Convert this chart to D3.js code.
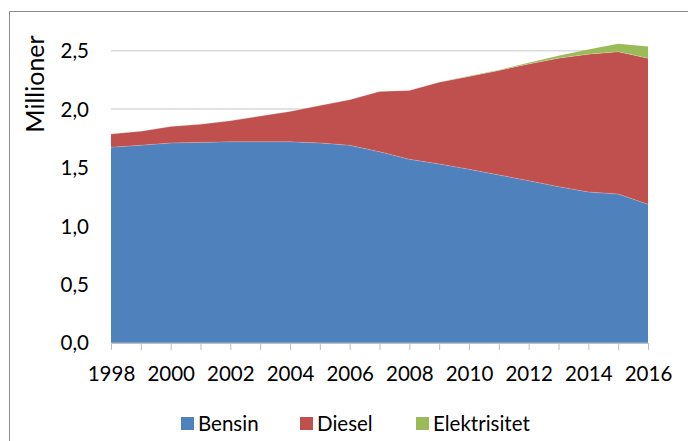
<!DOCTYPE html>
<html><head><meta charset="utf-8">
<script src="https://cdn.jsdelivr.net/npm/d3@7"></script>
<style>body{margin:0;background:#fff}svg{display:block}</style>
</head><body>
<script>
const years = [1998,1999,2000,2001,2002,2003,2004,2005,2006,2007,2008,2009,2010,2011,2012,2013,2014,2015,2016];
const bensin = [1.673,1.69,1.71,1.715,1.72,1.72,1.72,1.71,1.69,1.635,1.57,1.53,1.485,1.436,1.387,1.336,1.29,1.273,1.185];
const diesel = [0.114,0.12,0.14,0.155,0.18,0.22,0.26,0.32,0.39,0.515,0.59,0.70,0.795,0.894,1.0,1.10,1.18,1.217,1.25];
const elektrisitet = [0,0,0,0,0,0,0,0,0,0,0,0,0.003,0.005,0.01,0.02,0.04,0.07,0.10];
const seriesNames = ["Bensin","Diesel","Elektrisitet"];
const colors = ["#4f81bd","#c0504d","#9bbb59"];
const yTicks = [0,0.5,1,1.5,2,2.5];
const xTickLabels = [1998,2000,2002,2004,2006,2008,2010,2012,2014,2016];

const W=688,H=441;
const svg=d3.select("body").append("svg").attr("width",W).attr("height",H);
const font="Lato, 'Open Sans', sans-serif";

// frame
svg.append("path").attr("d","M9.5,441 V11.5 H688").attr("fill","none").attr("stroke","#8c8c8c").attr("stroke-width",1);

const x=d3.scaleLinear().domain([1998,2016]).range([111,648]);
const y=d3.scaleLinear().domain([0,2.5]).range([342.7,50.7]);

// gridlines
svg.append("g").selectAll("line").data(yTicks.filter(d=>d>0)).join("line")
 .attr("x1",111).attr("x2",648).attr("y1",d=>y(d)).attr("y2",d=>y(d))
 .attr("stroke","#d9d9d9").attr("stroke-width",1.5);

const table=years.map((yr,i)=>({year:yr,Bensin:bensin[i],Diesel:diesel[i],Elektrisitet:elektrisitet[i]}));
const stack=d3.stack().keys(seriesNames)(table);
const area=d3.area().x(d=>x(d.data.year)).y0(d=>y(d[0])).y1(d=>y(d[1]));
svg.append("g").selectAll("path").data(stack).join("path")
 .attr("d",area).attr("fill",(d,i)=>colors[i]);
// faint boundary lines
const line=d3.line().x(d=>x(d.data.year)).y(d=>y(d[1]));
svg.append("g").selectAll("path").data(stack.slice(0,2)).join("path")
 .attr("d",line).attr("fill","none").attr("stroke","rgba(255,255,255,0.25)").attr("stroke-width",0.8);

// x axis
const xAxis=d3.axisBottom(x).tickValues(years).tickSize(7).tickFormat(d=>xTickLabels.includes(d)?String(d):"");
const gx=svg.append("g").attr("transform","translate(0,343)").call(xAxis);
gx.select(".domain").attr("stroke","#bfbfbf").attr("stroke-width",1.2).attr("d","M111,0.5H648");
gx.selectAll(".tick line").attr("stroke","#bfbfbf");
gx.selectAll("text").attr("font-family",font).attr("font-size",20.5).attr("fill","#000").attr("dy",0).attr("y",38);

// y axis labels
const yAxis=d3.axisLeft(y).tickValues(yTicks).tickSize(0).tickFormat(d=>d3.format(".1f")(d).replace(".",","));
const gy=svg.append("g").attr("transform","translate(98,0)").call(yAxis);
gy.select(".domain").remove();
gy.selectAll("text").attr("font-family",font).attr("font-size",20.5).attr("fill","#000").attr("x",-9).attr("dy","0.35em");

svg.append("text").attr("transform","translate(44,84) rotate(-90)").attr("text-anchor","middle")
 .attr("font-family",font).attr("font-size",25).attr("fill","#000").text("Millioner");

// legend
const legX=[181,300,416];
const lg=svg.append("g").selectAll("g").data(seriesNames).join("g").attr("transform",(d,i)=>`translate(${legX[i]},0)`);
lg.append("rect").attr("x",0).attr("y",417).attr("width",13).attr("height",13).attr("fill",(d,i)=>colors[i]);
lg.append("text").attr("x",17).attr("y",423.5).attr("dy","0.35em").attr("font-family",font).attr("font-size",20.5).attr("fill","#000").text(d=>d);
</script>
</body></html>
